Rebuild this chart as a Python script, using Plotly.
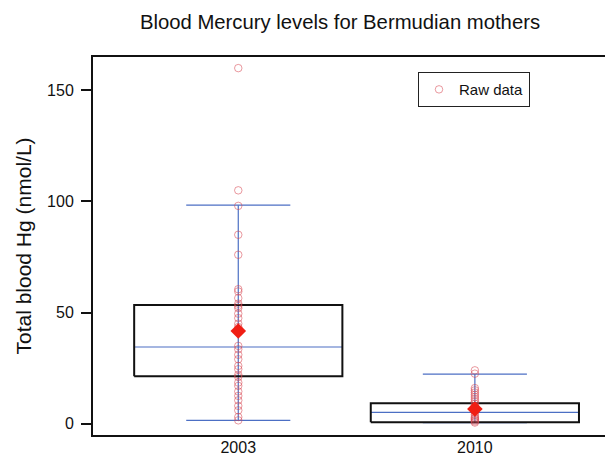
import plotly.graph_objects as go

# ---- data ----
years = ["2003", "2010"]
raw_2003 = [160, 105, 98, 85, 76, 60.5, 59.5, 56.5, 54, 53, 52, 49.5, 47.5, 45,
            43.5, 41.5, 35, 33.5, 31, 29, 26, 24.5, 22, 21, 18.5, 17, 14.5, 12.5,
            10.5, 8, 6, 3, 1.5]
raw_2010 = [24, 22.5, 16, 15, 14, 13, 12, 11, 10, 9, 8, 7.5, 7, 6.5, 6, 5, 4, 3,
            2.5, 2, 1.5, 1, 0.5]
q1 = [21.3, 0.6]
median = [34.5, 5.1]
q3 = [53.4, 9.2]
lower_whisker = [1.5, 0.5]
upper_whisker = [98.3, 22.3]
means = [41.7, 6.6]

BLUE = "#4c6fc4"
BOX_HALF = 0.44
CAP_HALF = 0.22

fig = go.Figure()
xs = list(range(len(years)))

for i, x in enumerate(xs):
    # whisker vertical
    fig.add_trace(go.Scatter(x=[x, x], y=[lower_whisker[i], upper_whisker[i]], mode="lines",
                             line=dict(color=BLUE, width=1.2), showlegend=False, hoverinfo="skip"))
    # caps
    for w in (lower_whisker[i], upper_whisker[i]):
        fig.add_trace(go.Scatter(x=[x - CAP_HALF, x + CAP_HALF], y=[w, w], mode="lines",
                                 line=dict(color=BLUE, width=1.2), showlegend=False, hoverinfo="skip"))
    # median
    fig.add_trace(go.Scatter(x=[x - BOX_HALF, x + BOX_HALF], y=[median[i], median[i]], mode="lines",
                             line=dict(color=BLUE, width=1.2), showlegend=False, hoverinfo="skip"))
    # box
    fig.add_trace(go.Scatter(x=[x - BOX_HALF, x + BOX_HALF, x + BOX_HALF, x - BOX_HALF, x - BOX_HALF],
                             y=[q1[i], q1[i], q3[i], q3[i], q1[i]], mode="lines",
                             line=dict(color="#111111", width=2), showlegend=False, hoverinfo="skip"))

raw = [raw_2003, raw_2010]
for i, x in enumerate(xs):
    fig.add_trace(go.Scatter(x=[x] * len(raw[i]), y=raw[i], mode="markers",
                             marker=dict(symbol="circle-open", size=7.5, color="rgba(215,70,80,0.55)",
                                         line=dict(width=1)),
                             name="Raw data", showlegend=(i == 0)))

fig.add_trace(go.Scatter(x=xs, y=means, mode="markers",
                         marker=dict(symbol="diamond", size=12, color="#f01e14"),
                         showlegend=False))

fig.update_layout(
    width=605, height=462,
    margin=dict(l=93, r=0, t=57, b=27, autoexpand=False),
    paper_bgcolor="white", plot_bgcolor="white",
    font=dict(family="Liberation Sans, Arial", color="#111111"),
    title=dict(text="Blood Mercury levels for Bermudian mothers", x=0.562, xanchor="center",
               y=0.952, yanchor="middle", font=dict(size=20.3)),
    legend=dict(x=(418 - 93) / 512, y=0.96, xanchor="left", yanchor="top", bordercolor="#222222",
                borderwidth=1, bgcolor="white", font=dict(size=15), itemwidth=30),
    xaxis=dict(tickvals=xs, ticktext=years, range=[-0.614, 1.55], showline=True, mirror=True,
               linecolor="#111111", linewidth=2, ticks="", showgrid=False, zeroline=False,
               tickfont=dict(size=16), automargin=False, ticklabelstandoff=-3),
    yaxis=dict(range=[-5.1, 165], tickvals=[0, 50, 100, 150], showline=True, linecolor="#111111",
               linewidth=2, ticks="outside", ticklen=10, tickwidth=1.5, tickcolor="#111111",
               showgrid=False, zeroline=False, tickfont=dict(size=16), ticklabelstandoff=4,
               automargin=False,
               title=dict(text="Total blood Hg (nmol/L)", font=dict(size=21), standoff=10)),
)

fig.write_html("out.html", config={"displayModeBar": False},
               post_script="document.body.style.margin='0px';")
